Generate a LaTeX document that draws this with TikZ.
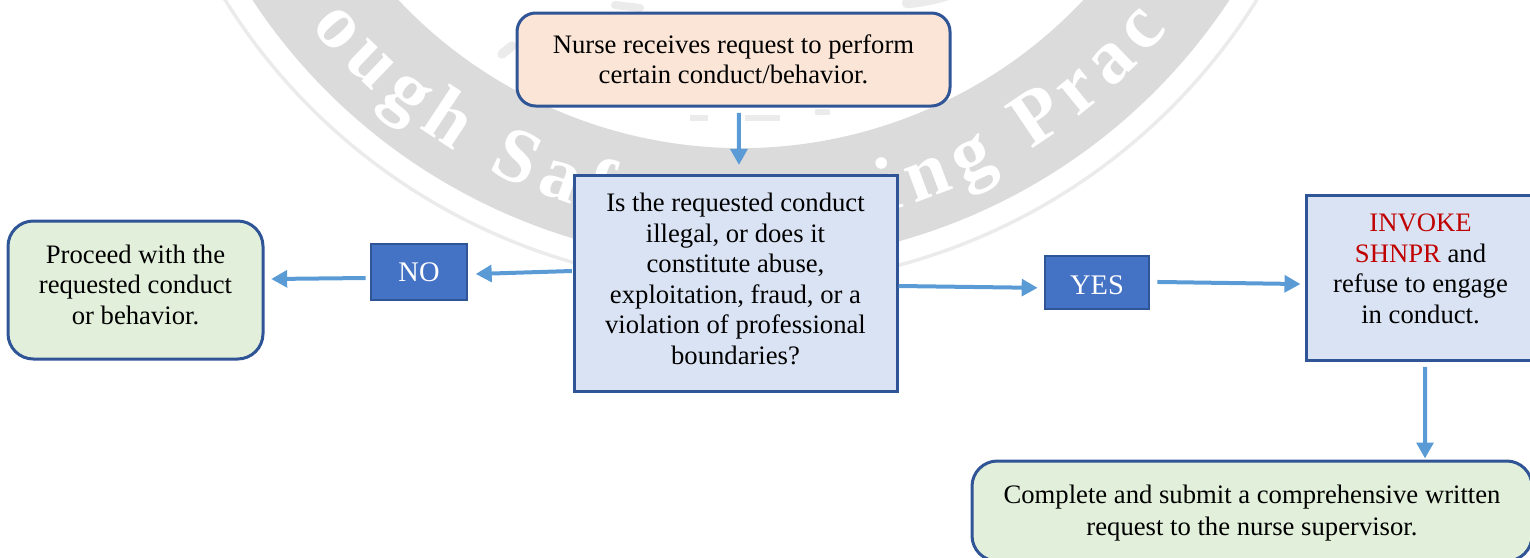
\documentclass[tikz,border=0pt]{standalone}
\usepackage{fontspec}
\setmainfont{Liberation Serif}
\usetikzlibrary{arrows.meta,decorations.text}
\definecolor{edgeblue}{HTML}{2F5597}
\definecolor{arrowblue}{HTML}{5B9BD5}
\definecolor{peach}{HTML}{FBE5D6}
\definecolor{paleblue}{HTML}{DAE3F3}
\definecolor{palegreen}{HTML}{E2EFDA}
\definecolor{midblue}{HTML}{4472C4}
\definecolor{wm}{HTML}{DBDBDB}
\definecolor{wmthin}{HTML}{EBEBEB}
\definecolor{invokered}{HTML}{C00000}
\newcommand{\wmfont}{\fontsize{58pt}{60pt}\selectfont\bfseries\color{white}}
\newcommand{\lowdepth}[1]{\rule[-#1]{0pt}{1pt}}
\tikzset{
  x=0.75pt,y=0.75pt,
  boxbase/.style={draw=edgeblue,line width=2.25pt,align=center,inner sep=0pt,text=black,
    font=\fontsize{20pt}{22.9pt}\selectfont},
  roundbox/.style={boxbase,rounded corners=#1},
  squarebox/.style={boxbase},
  tagbox/.style={draw=edgeblue,line width=2pt,fill=midblue,text=white,inner sep=0pt,
    font=\fontsize{21.3pt}{24pt}\selectfont},
  flow/.style={draw=arrowblue,line width=3pt,
    -{Triangle[length=12pt,width=12.5pt]},shorten >=0pt},
}
\begin{document}
\begin{tikzpicture}
\useasboundingbox (0,0) rectangle (1530,-557);
\clip (0,0) rectangle (1530,-557);
% watermark seal
\draw[wm,line width=86.25pt] (741,322) ++(200:527.5) arc (200:340:527.5);
\draw[wmthin,line width=2.6pt] (741,322) ++(200:608) arc (200:340:608);
\path[decorate,decoration={text along path,text align={fit to path},
  text={|\wmfont|ough Safe Nursing Prac}}]
  (741,322) ++(219:553) arc (219:320.5:553);
\draw[wmthin,line width=8pt,line cap=round] (907,-3) .. controls (990,5) and (995,45) .. (953,63);
\draw[wmthin,line width=6pt,line cap=round] (615,-5) -- (640,-8);
\draw[wmthin,line width=5pt] (690,-118) -- (708,-118);
\draw[wmthin,line width=5pt] (745,-118) -- (780,-118);
\draw[wmthin,line width=5pt] (815,-112) -- (830,-112);
\draw[wmthin,line width=7pt,line cap=round] (502,-54) -- (512,-46);
% boxes
\node[roundbox=14pt,fill=peach,minimum width=324.75pt,minimum height=69.75pt] (nurse) at (733.5,-59.5)
  {Nurse receives request to perform\\certain conduct/behavior.};
\node[squarebox,fill=paleblue,minimum width=242.25pt,minimum height=162pt] (ask) at (735.5,-283)
  {Is the requested conduct\\illegal, or does it\\constitute abuse,\\exploitation, fraud, or a\\violation of professional\\boundaries?\lowdepth{6.5pt}};
\node[roundbox=19pt,fill=palegreen,minimum width=191.25pt,minimum height=103.5pt] (proceed) at (135.5,-290)
  {Proceed with the\\requested conduct\\or behavior.\lowdepth{8pt}};
\node[tagbox,minimum width=72pt,minimum height=42pt] (no) at (419,-272) {NO};
\node[tagbox,minimum width=78pt,minimum height=39.75pt] (yes) at (1097,-282.5) {YES\rule{0pt}{18.5pt}};
\node[squarebox,fill=paleblue,minimum width=171.75pt,minimum height=123.75pt] (invoke) at (1420.5,-277.5)
  {\textcolor{invokered}{INVOKE}\\\textcolor{invokered}{SHNPR} and\\refuse to engage\\in conduct.\lowdepth{13pt}};
\node[roundbox=19pt,fill=palegreen,minimum width=420pt,minimum height=75pt] (complete) at (1252,-511)
  {\rule{0pt}{17pt}Complete and submit a comprehensive written\\[1pt]request to the nurse supervisor.};
% connectors
\draw[flow] ([xshift=4pt,yshift=-4pt]nurse.south) -- ([xshift=2.6pt,yshift=6.4pt]ask.north);
\draw[flow] ([xshift=-0.5pt,yshift=9pt]ask.west) -- ([xshift=5.5pt,yshift=-1.5pt]no.east);
\draw[flow] ([xshift=-3pt,yshift=-4.5pt]no.west) -- ([xshift=5pt,yshift=8.25pt]proceed.east);
\draw[flow] ([yshift=-2.25pt]ask.east) -- ([xshift=-4.5pt,yshift=-4pt]yes.west);
\draw[flow] ([xshift=5.25pt,yshift=0.4pt]yes.east) -- ([xshift=-3pt,yshift=-4.9pt]invoke.west);
\draw[flow] ([xshift=3.4pt,yshift=-4pt]invoke.south) -- ([xshift=129.75pt,yshift=0.75pt]complete.north);
\end{tikzpicture}
\end{document}
